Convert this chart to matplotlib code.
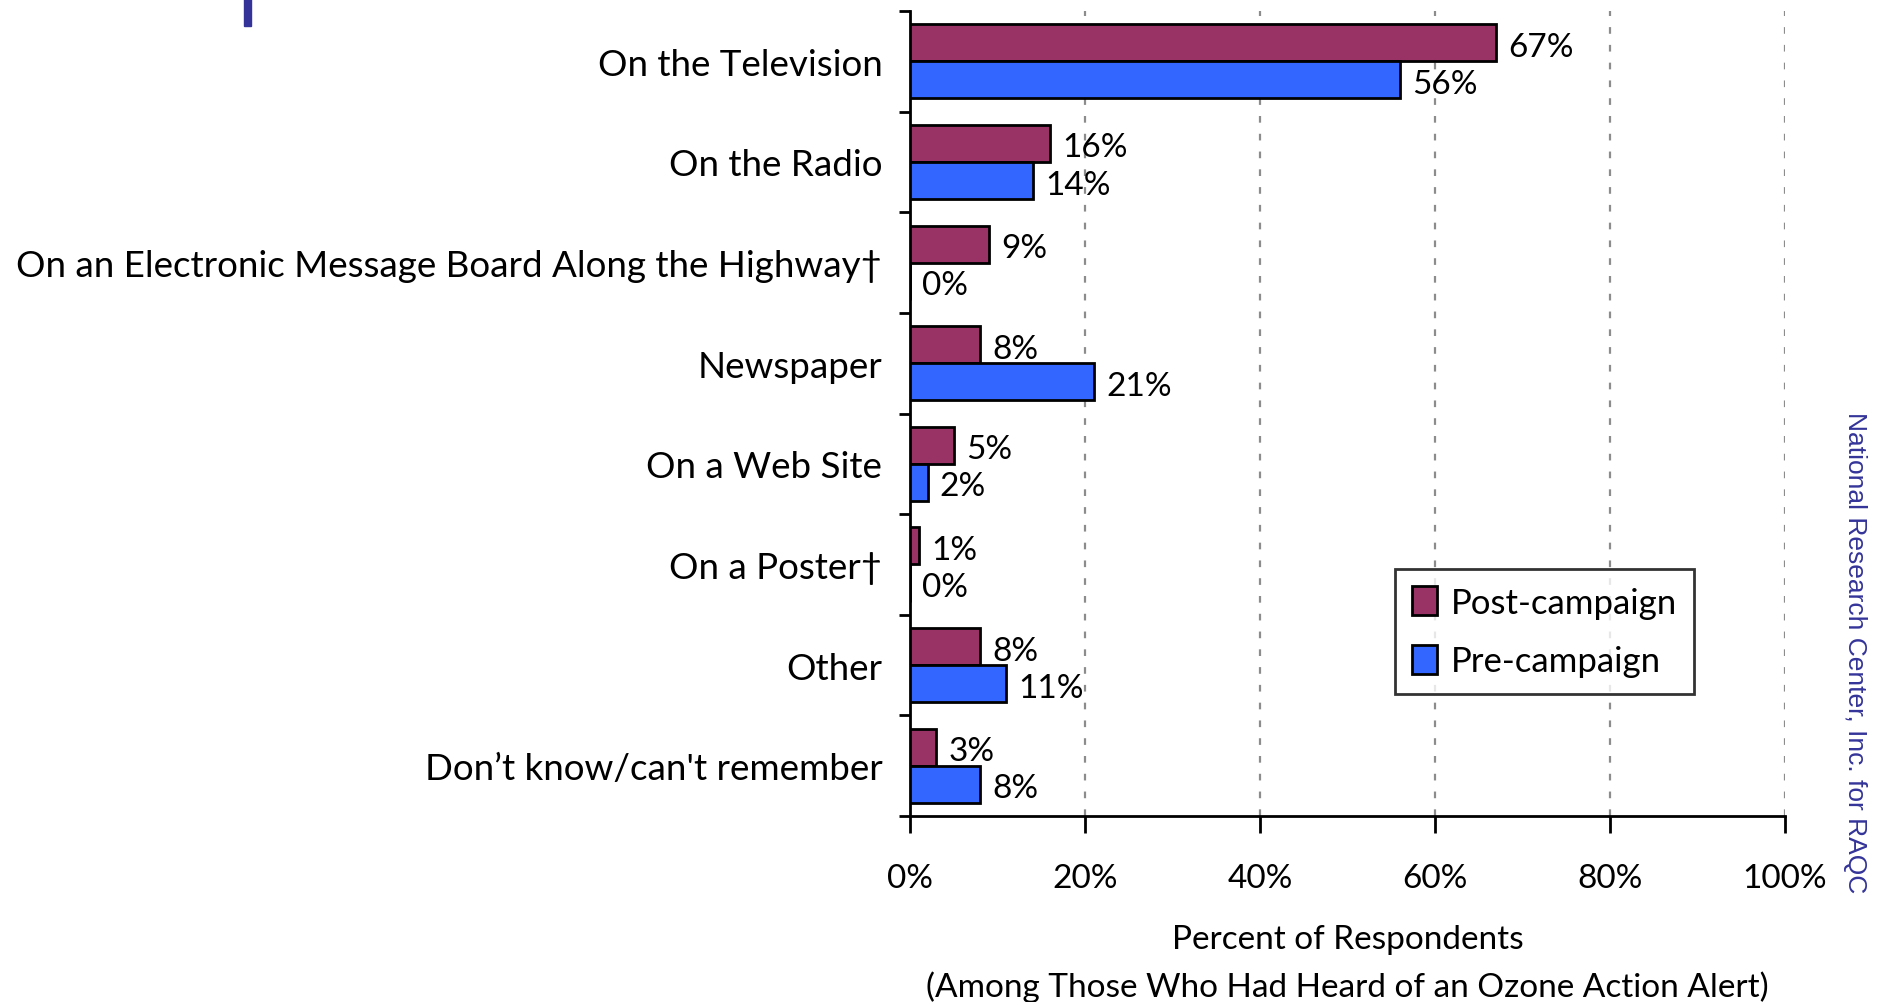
import matplotlib

matplotlib.use("Agg")
import matplotlib.pyplot as plt
import numpy as np
from matplotlib.patches import Rectangle

categories = [
    "On the Television",
    "On the Radio",
    "On an Electronic Message Board Along the Highway\u2020",
    "Newspaper",
    "On a Web Site",
    "On a Poster\u2020",
    "Other",
    "Don\u2019t know/can't remember",
]
post_campaign = [67, 16, 9, 8, 5, 1, 8, 3]
pre_campaign = [56, 14, 0, 21, 2, 0, 11, 8]
x_ticks = [0, 20, 40, 60, 80, 100]

POST_COLOR = "#993366"
PRE_COLOR = "#3366FF"
NOTE_COLOR = "#333399"

plt.rcParams["font.family"] = ["Lato", "DejaVu Sans"]

fig = plt.figure(figsize=(18.85, 10.03), dpi=100)
ax = fig.add_axes([0.4828, 0.1854, 0.4642, 0.8026])

y = np.arange(len(categories))
h = 0.368
ax.barh(y - h / 2, post_campaign, height=h, color=POST_COLOR, edgecolor="black",
        linewidth=2, label="Post-campaign", zorder=3)
ax.barh(y + h / 2, pre_campaign, height=h, color=PRE_COLOR, edgecolor="black",
        linewidth=2, label="Pre-campaign", zorder=3)

for i, (post, pre) in enumerate(zip(post_campaign, pre_campaign)):
    ax.text(post + 1.4, i - h / 2 + 0.04, f"{post}%", va="center", ha="left",
            fontsize=24, zorder=4)
    ax.text(pre + 1.4, i + h / 2 + 0.04, f"{pre}%", va="center", ha="left",
            fontsize=24, zorder=4)

ax.set_xlim(0, 100)
ax.set_ylim(len(categories) - 0.5, -0.5)

ax.set_xticks(x_ticks)
ax.set_xticklabels([f"{t}%" for t in x_ticks], fontsize=24)
ax.tick_params(axis="x", length=12, width=2, pad=22)

ax.set_yticks(y)
ax.set_yticklabels(categories, fontsize=26.5)
ax.set_yticks(np.arange(len(categories) + 1) - 0.5, minor=True)
ax.tick_params(axis="y", which="major", length=0, pad=20)
ax.tick_params(axis="y", which="minor", length=8, width=2)

for gx in x_ticks[1:]:
    ax.axvline(gx, color="#8c8c8c", linewidth=1.6, linestyle=(0, (3, 5)), zorder=1)

for side in ("top", "right"):
    ax.spines[side].set_visible(False)
for side in ("left", "bottom"):
    ax.spines[side].set_linewidth(2)

ax.set_xlabel("Percent of Respondents\n(Among Those Who Had Heard of an Ozone Action Alert)",
              fontsize=24, labelpad=22, linespacing=1.65)

legend = ax.legend(loc="upper left", bbox_to_anchor=(0.554, 0.307), fontsize=25,
                   frameon=True, fancybox=False, edgecolor="black",
                   handlelength=0.7, handleheight=0.9, handletextpad=0.4,
                   borderpad=0.5, labelspacing=0.75, borderaxespad=0)
legend.get_frame().set_linewidth(2)

fig.text(0.984, 0.349, "National Research Center, Inc. for RAQC", rotation=-90,
         ha="center", va="center", fontsize=19, color=NOTE_COLOR,
         family=["Liberation Sans", "DejaVu Sans"])

fig.patches.append(Rectangle((244 / 1885, 1 - 27 / 1003), 7 / 1885, 27 / 1003,
                             transform=fig.transFigure, color=NOTE_COLOR))

fig.savefig("out.png", dpi=100)
